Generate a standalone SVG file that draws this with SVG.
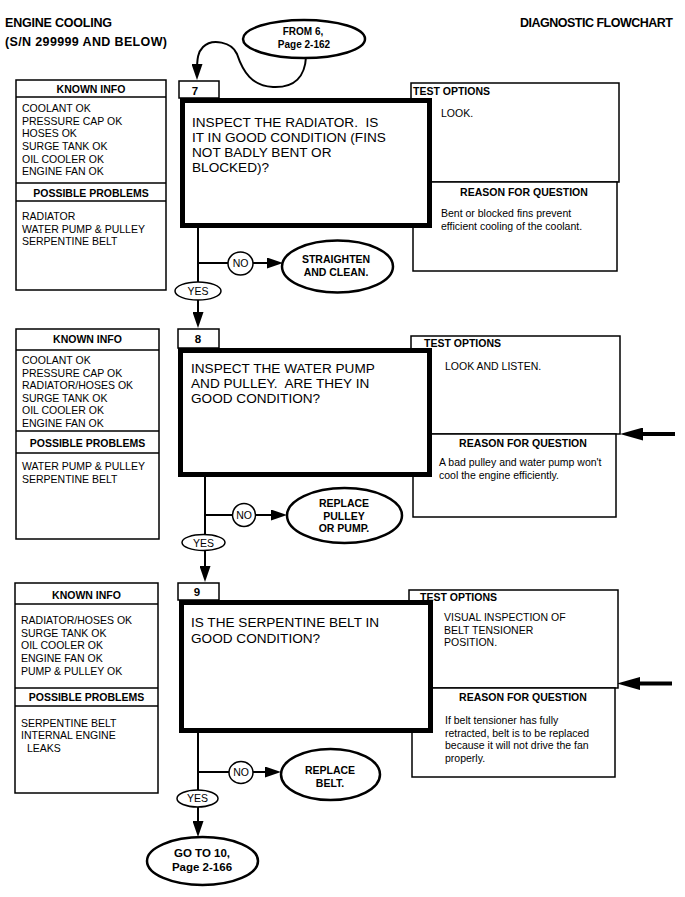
<svg xmlns="http://www.w3.org/2000/svg" width="685" height="897" viewBox="0 0 685 897">
<style>
text{font-family:"Liberation Sans",Arial,sans-serif;fill:#000}
.h{font-size:12.5px;font-weight:bold}
.t{font-size:10.5px}
.b{font-size:10.5px;font-weight:bold}
.c{text-anchor:middle}
.q{font-size:13.6px}
.n{font-size:11.5px;font-weight:bold;text-anchor:middle}
.bx{fill:#fff;stroke:#000;stroke-width:1.5}
.big{fill:#fff;stroke:#000;stroke-width:5}
.ln{fill:none;stroke:#000;stroke-width:2}
.bln{fill:none;stroke:#000;stroke-width:4}
.e1{fill:#fff;stroke:#000;stroke-width:1.5}
.e2{fill:#fff;stroke:#000;stroke-width:2.5}
</style>
<defs>
<marker id="ah" markerUnits="userSpaceOnUse" markerWidth="16" markerHeight="11" refX="8" refY="5.5" orient="auto" viewBox="0 0 16 11"><path d="M0,0 L16,5.5 L0,11 z" fill="#000"/></marker>
<marker id="bah" markerUnits="userSpaceOnUse" markerWidth="23" markerHeight="13" refX="3" refY="6.5" orient="auto" viewBox="0 0 23 13"><path d="M0,0 L23,6.5 L0,13 z" fill="#000"/></marker>
</defs>

<g id="header">
<text class="h" x="5" y="27" textLength="107">ENGINE COOLING</text>
<text class="h" x="5" y="46" textLength="162">(S/N 299999 AND BELOW)</text>
<text class="h" x="673" y="27" text-anchor="end" textLength="153">DIAGNOSTIC FLOWCHART</text>
</g>

<g id="connectors">
<path class="ln" d="M306,57 C305,76 295,88 273,87 C252,86 243,72 237,54 C232,42 212,38 203,47 C198,52 197,58 197,72" marker-end="url(#ah)"/>
<line class="ln" x1="198" y1="228" x2="198" y2="282"/>
<line class="ln" x1="198" y1="263" x2="228" y2="263"/>
<line class="ln" x1="253" y1="263" x2="275" y2="263" marker-end="url(#ah)"/>
<line class="ln" x1="198" y1="300" x2="198" y2="320" marker-end="url(#ah)"/>
<line class="ln" x1="205" y1="477" x2="205" y2="534"/>
<line class="ln" x1="205" y1="515" x2="232.5" y2="515"/>
<line class="ln" x1="255.5" y1="515" x2="279" y2="515" marker-end="url(#ah)"/>
<line class="ln" x1="205" y1="550.5" x2="205" y2="574" marker-end="url(#ah)"/>
<line class="ln" x1="198" y1="733" x2="198" y2="790"/>
<line class="ln" x1="198" y1="772" x2="229" y2="772"/>
<line class="ln" x1="253" y1="772" x2="273" y2="772" marker-end="url(#ah)"/>
<line class="ln" x1="198" y1="807" x2="198" y2="829" marker-end="url(#ah)"/>
<line class="bln" x1="675" y1="434" x2="640" y2="434" marker-end="url(#bah)"/>
<line class="bln" x1="672" y1="683.5" x2="637" y2="683.5" marker-end="url(#bah)"/>
</g>

<g id="from6">
<ellipse class="e2" cx="304" cy="39" rx="61" ry="19"/>
<text class="b c" x="303" y="35" style="font-size:10px">FROM 6,</text>
<text class="b c" x="304" y="47.5" style="font-size:10px">Page 2-162</text>
</g>

<!-- Section 7 -->
<g id="known7">
<rect class="bx" x="16" y="80" width="150" height="210"/>
<line class="ln" x1="16" y1="97" x2="166" y2="97" style="stroke-width:1.5"/>
<line class="ln" x1="16" y1="183" x2="166" y2="183" style="stroke-width:1.5"/>
<line class="ln" x1="16" y1="201" x2="166" y2="201" style="stroke-width:1.5"/>
<text class="b c" x="91" y="93">KNOWN INFO</text>
<text class="t" x="22" y="112">COOLANT OK</text>
<text class="t" x="22" y="124.7">PRESSURE CAP OK</text>
<text class="t" x="22" y="137.3">HOSES OK</text>
<text class="t" x="22" y="150">SURGE TANK OK</text>
<text class="t" x="22" y="162.7">OIL COOLER OK</text>
<text class="t" x="22" y="175.3">ENGINE FAN OK</text>
<text class="b c" x="91" y="197">POSSIBLE PROBLEMS</text>
<text class="t" x="22" y="220">RADIATOR</text>
<text class="t" x="22" y="232.5">WATER PUMP &amp; PULLEY</text>
<text class="t" x="22" y="245">SERPENTINE BELT</text>
</g>
<g id="test7">
<rect class="bx" x="411" y="83" width="208" height="99"/>
<text class="b" x="413" y="95">TEST OPTIONS</text>
<text class="t" x="441" y="117">LOOK.</text>
</g>
<g id="reason7">
<rect class="bx" x="413" y="182" width="204" height="89"/>
<text class="b c" x="524" y="196">REASON FOR QUESTION</text>
<text class="t" x="441" y="217">Bent or blocked fins prevent</text>
<text class="t" x="441" y="230">efficient cooling of the coolant.</text>
</g>
<g id="q7">
<rect class="big" x="182.5" y="100.5" width="247" height="125"/>
<text class="q" x="192" y="126.7" xml:space="preserve">INSPECT THE RADIATOR.  IS</text>
<text class="q" x="192" y="141.7">IT IN GOOD CONDITION (FINS</text>
<text class="q" x="192" y="156.7">NOT BADLY BENT OR</text>
<text class="q" x="192" y="171.7">BLOCKED)?</text>
</g>
<g id="num7">
<rect class="bx" x="179" y="81" width="40" height="17"/>
<text class="n" x="195" y="94.5">7</text>
</g>
<g id="no7">
<ellipse class="e1" cx="240.5" cy="263.5" rx="12.5" ry="11.5"/>
<text class="t c" x="240.5" y="267.3">NO</text>
</g>
<g id="fix7">
<ellipse class="e2" cx="337.5" cy="266.5" rx="55.5" ry="26"/>
<text class="b c" x="336" y="263">STRAIGHTEN</text>
<text class="b c" x="336" y="276">AND CLEAN.</text>
</g>
<g id="yes7">
<ellipse class="e1" cx="198" cy="291" rx="23" ry="9"/>
<text class="t c" x="198" y="295">YES</text>
</g>

<!-- Section 8 -->
<g id="known8">
<rect class="bx" x="16" y="329" width="143" height="210"/>
<line class="ln" x1="16" y1="350" x2="159" y2="350" style="stroke-width:1.5"/>
<line class="ln" x1="16" y1="431" x2="159" y2="431" style="stroke-width:1.5"/>
<line class="ln" x1="16" y1="453" x2="159" y2="453" style="stroke-width:1.5"/>
<text class="b c" x="87.5" y="343">KNOWN INFO</text>
<text class="t" x="22" y="364">COOLANT OK</text>
<text class="t" x="22" y="376.7">PRESSURE CAP OK</text>
<text class="t" x="22" y="389.2">RADIATOR/HOSES OK</text>
<text class="t" x="22" y="401.7">SURGE TANK OK</text>
<text class="t" x="22" y="414.3">OIL COOLER OK</text>
<text class="t" x="22" y="426.8">ENGINE FAN OK</text>
<text class="b c" x="87.5" y="446.7">POSSIBLE PROBLEMS</text>
<text class="t" x="22" y="470">WATER PUMP &amp; PULLEY</text>
<text class="t" x="22" y="482.7">SERPENTINE BELT</text>
</g>
<g id="test8">
<rect class="bx" x="411" y="336" width="209" height="98"/>
<text class="b" x="424" y="346.7">TEST OPTIONS</text>
<text class="t" x="445" y="370">LOOK AND LISTEN.</text>
</g>
<g id="reason8">
<rect class="bx" x="413" y="434" width="203" height="83"/>
<text class="b c" x="523" y="447">REASON FOR QUESTION</text>
<text class="t" x="439" y="466">A bad pulley and water pump won't</text>
<text class="t" x="439" y="478.5">cool the engine efficiently.</text>
</g>
<g id="q8">
<rect class="big" x="180.5" y="350.5" width="249" height="124"/>
<text class="q" x="191" y="373.3">INSPECT THE WATER PUMP</text>
<text class="q" x="191" y="388.3" xml:space="preserve">AND PULLEY.  ARE THEY IN</text>
<text class="q" x="191" y="403.3">GOOD CONDITION?</text>
</g>
<g id="num8">
<rect class="bx" x="178" y="329" width="41" height="19"/>
<text class="n" x="198" y="343">8</text>
</g>
<g id="no8">
<ellipse class="e1" cx="244" cy="515" rx="11.5" ry="11.5"/>
<text class="t c" x="244" y="518.8">NO</text>
</g>
<g id="fix8">
<ellipse class="e2" cx="344.5" cy="515.5" rx="57.5" ry="27.5"/>
<text class="b c" x="344" y="507">REPLACE</text>
<text class="b c" x="344" y="519.5">PULLEY</text>
<text class="b c" x="344" y="532">OR PUMP.</text>
</g>
<g id="yes8">
<ellipse class="e1" cx="203.5" cy="542.5" rx="21.5" ry="8"/>
<text class="t c" x="203.5" y="546.5">YES</text>
</g>

<!-- Section 9 -->
<g id="known9">
<rect class="bx" x="15" y="583" width="143" height="210"/>
<line class="ln" x1="15" y1="604" x2="158" y2="604" style="stroke-width:1.5"/>
<line class="ln" x1="15" y1="688" x2="158" y2="688" style="stroke-width:1.5"/>
<line class="ln" x1="15" y1="706" x2="158" y2="706" style="stroke-width:1.5"/>
<text class="b c" x="86.5" y="599.3">KNOWN INFO</text>
<text class="t" x="21" y="624">RADIATOR/HOSES OK</text>
<text class="t" x="21" y="636.7">SURGE TANK OK</text>
<text class="t" x="21" y="649.3">OIL COOLER OK</text>
<text class="t" x="21" y="662">ENGINE FAN OK</text>
<text class="t" x="21" y="674.7">PUMP &amp; PULLEY OK</text>
<text class="b c" x="86.5" y="701">POSSIBLE PROBLEMS</text>
<text class="t" x="21" y="726.7">SERPENTINE BELT</text>
<text class="t" x="21" y="739.2">INTERNAL ENGINE</text>
<text class="t" x="27" y="751.7">LEAKS</text>
</g>
<g id="test9">
<rect class="bx" x="409" y="590" width="209" height="98"/>
<text class="b" x="420" y="601">TEST OPTIONS</text>
<text class="t" x="444" y="621">VISUAL INSPECTION OF</text>
<text class="t" x="444" y="633.5">BELT TENSIONER</text>
<text class="t" x="444" y="646">POSITION.</text>
</g>
<g id="reason9">
<rect class="bx" x="412" y="688" width="203" height="89"/>
<text class="b c" x="523" y="701">REASON FOR QUESTION</text>
<text class="t" x="445" y="724">If belt tensioner has fully</text>
<text class="t" x="445" y="736.7">retracted, belt is to be replaced</text>
<text class="t" x="445" y="749.3">because it will not drive the fan</text>
<text class="t" x="445" y="762">properly.</text>
</g>
<g id="q9">
<rect class="big" x="181.5" y="602.5" width="249" height="128"/>
<text class="q" x="191" y="627">IS THE SERPENTINE BELT IN</text>
<text class="q" x="191" y="642.7">GOOD CONDITION?</text>
</g>
<g id="num9">
<rect class="bx" x="178" y="583" width="41" height="17"/>
<text class="n" x="197" y="596">9</text>
</g>
<g id="no9">
<ellipse class="e1" cx="241" cy="772.5" rx="12" ry="11"/>
<text class="t c" x="241" y="776.3">NO</text>
</g>
<g id="fix9">
<ellipse class="e2" cx="330.5" cy="774.5" rx="49.5" ry="25.5"/>
<text class="b c" x="330" y="774">REPLACE</text>
<text class="b c" x="330" y="786.5">BELT.</text>
</g>
<g id="yes9">
<ellipse class="e1" cx="197.5" cy="798.5" rx="20.5" ry="8.5"/>
<text class="t c" x="197.5" y="802.3">YES</text>
</g>
<g id="goto10">
<ellipse class="e2" cx="202.5" cy="861" rx="55.5" ry="24"/>
<text class="b c" x="202" y="856.7" style="font-size:11.5px">GO TO 10,</text>
<text class="b c" x="202" y="870.5" style="font-size:11.5px">Page 2-166</text>
</g>
</svg>
